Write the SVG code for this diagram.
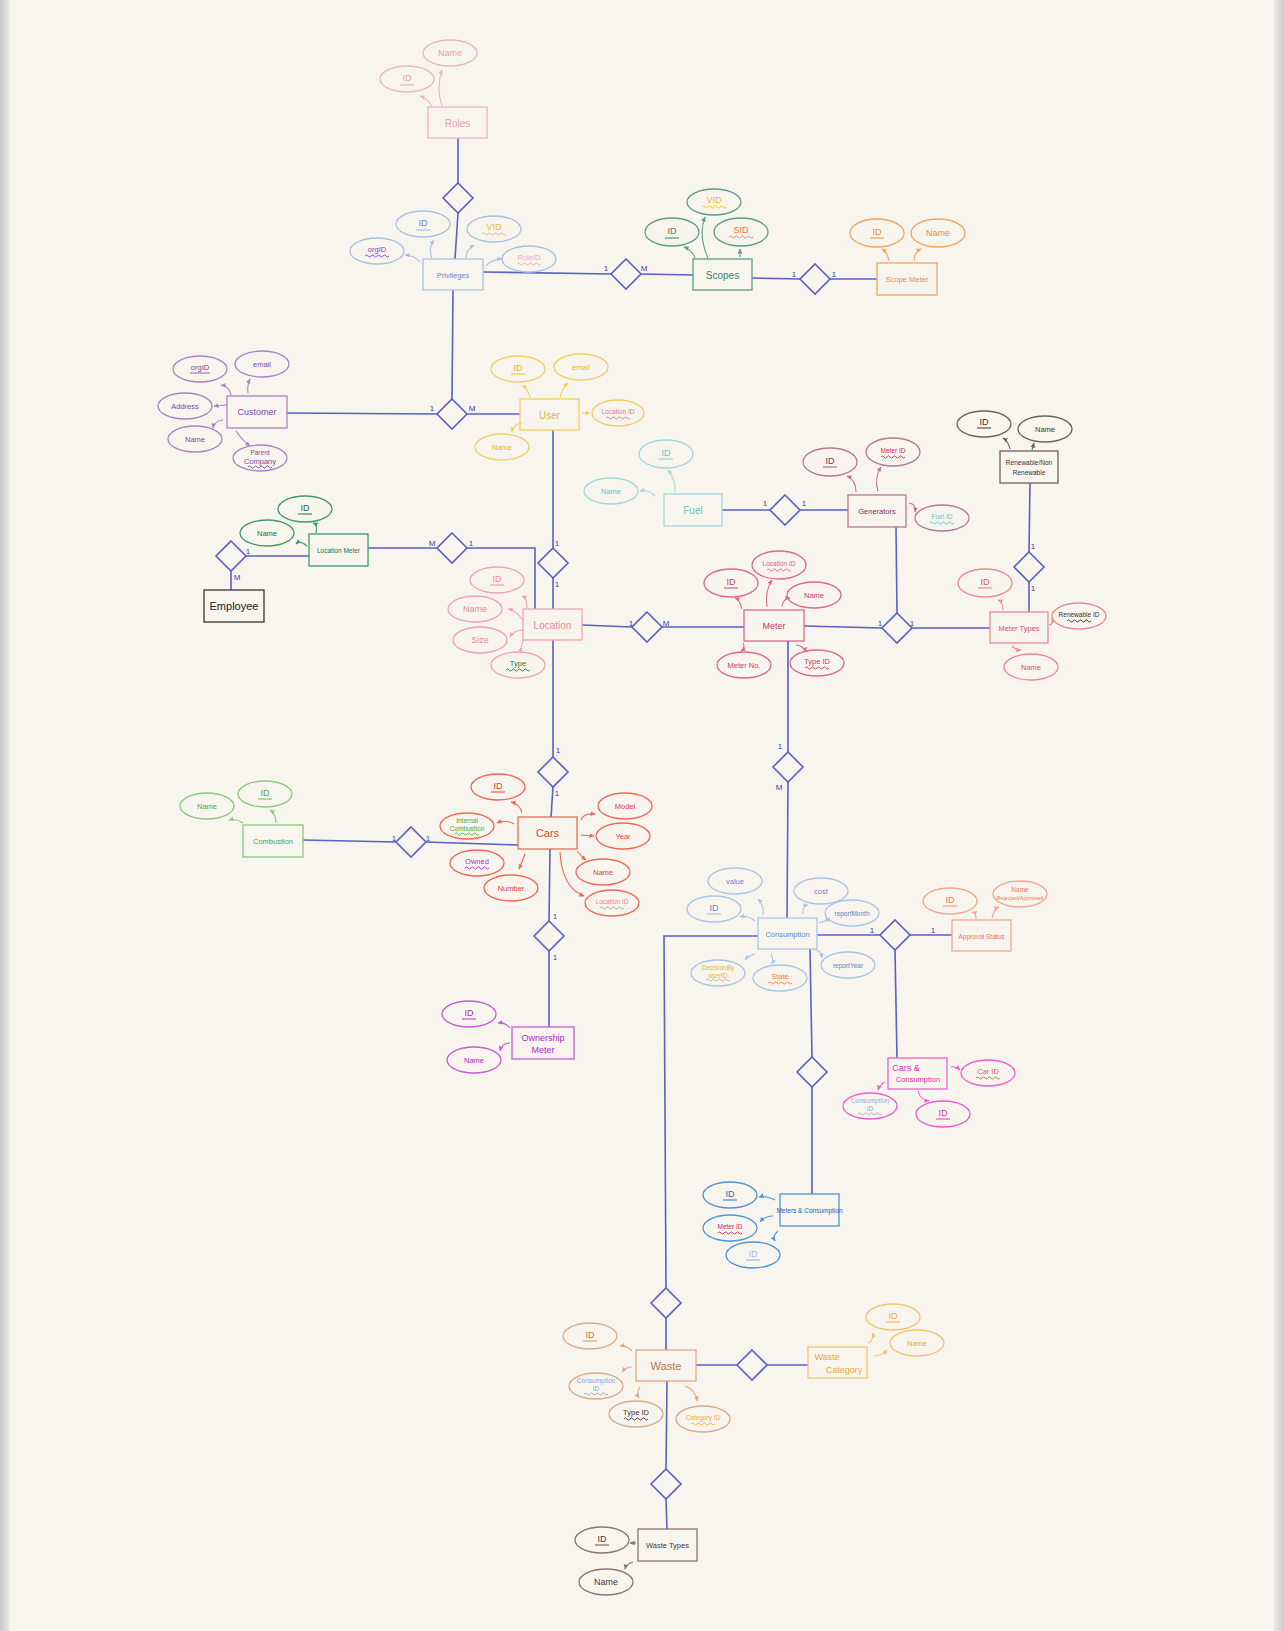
<svg xmlns="http://www.w3.org/2000/svg" width="1284" height="1631" viewBox="0 0 1284 1631">
<defs>
<style>
text{font-family:"Liberation Sans","DejaVu Sans",sans-serif;stroke:none;text-anchor:middle;dominant-baseline:central}
.t{font-size:10px}
.a{font-size:9px}
.s{font-size:7.5px}
.xs{font-size:6.5px}
.ln{fill:none;stroke:#5b5fc7;stroke-width:1.6}
.dm{fill:none;stroke:#5b5fc7;stroke-width:1.6}
.cd{fill:#3b40b0;font-size:8px}
.ar{fill:none;stroke-width:1.1;marker-end:url(#ah)}
</style>
<marker id="ah" viewBox="0 0 6 6" refX="5" refY="3" markerWidth="5" markerHeight="5" orient="auto"><path d="M0 0.5 L5.5 3 L0 5.5 z" fill="context-stroke"/></marker>
<path id="wv" d="M0 0 q1.5 -2.2 3 0 t3 0 t3 0 t3 0 t3 0 t3 0 t3 0 t3 0" fill="none" stroke-width="0.9"/>
<path id="dia" d="M0 -15 L15 0 L0 15 L-15 0 Z"/>
<linearGradient id="lg" x1="0" x2="1" y1="0" y2="0"><stop offset="0" stop-color="#c9c9c9"/><stop offset="1" stop-color="#ecebe8"/></linearGradient>
<linearGradient id="rg" x1="0" x2="1" y1="0" y2="0"><stop offset="0" stop-color="#ecebe8"/><stop offset="1" stop-color="#c9c9c9"/></linearGradient>
</defs>
<rect x="0" y="0" width="1284" height="1631" fill="#f8f5ef"/>
<rect x="0" y="0" width="10" height="1631" fill="url(#lg)"/>
<rect x="1274" y="0" width="10" height="1631" fill="url(#rg)"/>

<g id="connectors">
<path class="ln" d="M458 138 L458 183 M458 213 L455 259"/>
<path class="ln" d="M483 272 L611 274 M641 274 L693 275"/>
<path class="ln" d="M752 278 L800 279 M830 279 L877 279"/>
<path class="ln" d="M453 290 L452 399"/>
<path class="ln" d="M287 413 L437 414 M467 414 L520 414"/>
<path class="ln" d="M553 430 L553 548 M553 578 L553 609"/>
<path class="ln" d="M368 548 L437 548 M467 548 L535 548 L535 609"/>
<path class="ln" d="M246 556 L309 556 M231 571 L231 590"/>
<path class="ln" d="M722 510 L770 510 M800 510 L848 510"/>
<path class="ln" d="M896 527 L897 613"/>
<path class="ln" d="M582 625 L632 627 M662 627 L744 627"/>
<path class="ln" d="M804 626 L882 628 M912 628 L990 628"/>
<path class="ln" d="M1030 483 L1029 552 M1029 582 L1029 612"/>
<path class="ln" d="M553 640 L553 757 M553 787 L551 817"/>
<path class="ln" d="M303 840 L396 842 M426 842 L518 845"/>
<path class="ln" d="M550 849 L549 921 M549 951 L549 1027"/>
<path class="ln" d="M788 641 L788 752 M788 782 L787 918"/>
<path class="ln" d="M817 935 L880 935 M910 935 L952 935"/>
<path class="ln" d="M895 950 L897 1058"/>
<path class="ln" d="M810 949 L812 1057 M812 1087 L812 1194"/>
<path class="ln" d="M758 936 L664 936 L666 1288 M666 1318 L666 1350"/>
<path class="ln" d="M696 1365 L737 1365 M767 1365 L808 1365"/>
<path class="ln" d="M667 1381 L666 1469 M666 1499 L667 1529"/>
<g id="diamonds">
<use href="#dia" class="dm" x="458" y="198"/>
<use href="#dia" class="dm" x="626" y="274"/>
<use href="#dia" class="dm" x="815" y="279"/>
<use href="#dia" class="dm" x="452" y="414"/>
<use href="#dia" class="dm" x="785" y="510"/>
<use href="#dia" class="dm" x="231" y="556"/>
<use href="#dia" class="dm" x="452" y="548"/>
<use href="#dia" class="dm" x="553" y="563"/>
<use href="#dia" class="dm" x="647" y="627"/>
<use href="#dia" class="dm" x="897" y="628"/>
<use href="#dia" class="dm" x="1029" y="567"/>
<use href="#dia" class="dm" x="553" y="772"/>
<use href="#dia" class="dm" x="411" y="842"/>
<use href="#dia" class="dm" x="549" y="936"/>
<use href="#dia" class="dm" x="788" y="767"/>
<use href="#dia" class="dm" x="895" y="935"/>
<use href="#dia" class="dm" x="812" y="1072"/>
<use href="#dia" class="dm" x="666" y="1303"/>
<use href="#dia" class="dm" x="752" y="1365"/>
<use href="#dia" class="dm" x="666" y="1484"/>
</g>
<g id="cardinalities">
<text class="cd" x="606" y="268">1</text><text class="cd" x="644" y="268">M</text>
<text class="cd" x="794" y="274">1</text><text class="cd" x="834" y="274">1</text>
<text class="cd" x="432" y="408">1</text><text class="cd" x="472" y="408">M</text>
<text class="cd" x="765" y="503">1</text><text class="cd" x="804" y="503">1</text>
<text class="cd" x="248" y="551">1</text><text class="cd" x="237" y="577">M</text>
<text class="cd" x="432" y="543">M</text><text class="cd" x="471" y="543">1</text>
<text class="cd" x="557" y="543">1</text><text class="cd" x="557" y="584">1</text>
<text class="cd" x="631" y="623">1</text><text class="cd" x="666" y="623">M</text>
<text class="cd" x="880" y="623">1</text><text class="cd" x="912" y="623">1</text>
<text class="cd" x="1033" y="546">1</text><text class="cd" x="1033" y="588">1</text>
<text class="cd" x="558" y="750">1</text><text class="cd" x="557" y="793">1</text>
<text class="cd" x="394" y="838">1</text><text class="cd" x="428" y="838">1</text>
<text class="cd" x="555" y="916">1</text><text class="cd" x="555" y="957">1</text>
<text class="cd" x="780" y="746">1</text><text class="cd" x="779" y="787">M</text>
<text class="cd" x="872" y="930">1</text><text class="cd" x="933" y="930">1</text>
</g>
</g>

<g id="roles" stroke="#eab8bc" fill="none" stroke-width="1.3">
<rect x="428" y="107" width="59" height="31"/>
<text class="t" x="457.5" y="123" fill="#e4a4ac">Roles</text>
<ellipse cx="407" cy="79" rx="27" ry="13"/><text class="a" x="407" y="78" fill="#e4a4ac">ID</text><line x1="400" y1="85" x2="414" y2="85"/>
<ellipse cx="450" cy="53" rx="27" ry="13"/><text class="a" x="450" y="53" fill="#e4a4ac">Name</text>
<path class="ar" d="M432 106 Q428 99 420 96"/>
<path class="ar" d="M442 106 Q436 88 442 70"/>
</g>

<g id="privileges" stroke="#a9c1e2" fill="none" stroke-width="1.3">
<rect x="423" y="259" width="60" height="31"/>
<text class="s" x="453" y="275" fill="#6a8ac4">Privileges</text>
<ellipse cx="423" cy="224" rx="27" ry="13"/><text class="a" x="423" y="223" fill="#6a8ac4">ID</text><line x1="416" y1="230" x2="430" y2="230"/>
<ellipse cx="494" cy="229" rx="27" ry="13"/><text class="a" x="494" y="227" fill="#f0c020">VID</text><use href="#wv" x="482" y="234" stroke="#f0c020"/>
<ellipse cx="377" cy="251" rx="27" ry="13"/><text class="s" x="377" y="249" fill="#8a3aa8">orgID</text><use href="#wv" x="365" y="256" stroke="#8a3aa8"/>
<ellipse cx="529" cy="259" rx="27" ry="13"/><text class="s" x="529" y="257" fill="#eaa8b4">RoleID</text><use href="#wv" x="517" y="264" stroke="#eaa8b4"/>
<path class="ar" d="M432 258 Q428 248 434 240"/>
<path class="ar" d="M466 258 Q466 250 474 245"/>
<path class="ar" d="M420 262 Q414 255 405 255"/>
<path class="ar" d="M486 266 Q492 259 502 259"/>
</g>

<g id="scopes" stroke="#5e9c8a" fill="none" stroke-width="1.3">
<rect x="693" y="259" width="59" height="31"/>
<text class="t" x="722.5" y="275" fill="#3f7f6c">Scopes</text>
<ellipse cx="672" cy="232" rx="27" ry="14"/><text class="a" x="672" y="231" fill="#3f7f6c">ID</text><line x1="665" y1="238" x2="679" y2="238"/>
<ellipse cx="714" cy="202" rx="27" ry="13"/><text class="a" x="714" y="200" fill="#f0c020">VID</text><use href="#wv" x="702" y="207" stroke="#f0c020"/>
<ellipse cx="741" cy="232" rx="27" ry="14"/><text class="a" x="741" y="230" fill="#f07a3a">SID</text><use href="#wv" x="729" y="237" stroke="#f07a3a"/>
<path class="ar" d="M695 258 Q692 250 684 247"/>
<path class="ar" d="M708 258 Q698 235 705 217"/>
<path class="ar" d="M740 257 L740 249"/>
</g>

<g id="scope-meter" stroke="#f2a55e" fill="none" stroke-width="1.3">
<rect x="877" y="263" width="60" height="32"/>
<text class="s" x="907" y="279" fill="#ef8a3a">Scope Meter</text>
<ellipse cx="877" cy="233" rx="27" ry="14"/><text class="a" x="877" y="232" fill="#ef8a3a">ID</text><line x1="870" y1="238" x2="884" y2="238"/>
<ellipse cx="938" cy="233" rx="27" ry="14"/><text class="a" x="938" y="233" fill="#ef8a3a">Name</text>
<path class="ar" d="M889 261 Q888 253 882 249"/>
<path class="ar" d="M914 261 Q914 252 921 249"/>
</g>

<g id="customer" stroke="#a884c4" fill="none" stroke-width="1.3">
<rect x="227" y="396" width="60" height="32"/>
<text class="a" x="257" y="412" fill="#7a4aa0">Customer</text>
<ellipse cx="200" cy="369" rx="27" ry="13"/><text class="s" x="200" y="367" fill="#7a4aa0">orgID</text><line x1="190" y1="373" x2="210" y2="373"/>
<ellipse cx="262" cy="364" rx="27" ry="13"/><text class="s" x="262" y="364" fill="#7a4aa0">email</text>
<ellipse cx="185" cy="406" rx="27" ry="13"/><text class="s" x="185" y="406" fill="#7a4aa0">Address</text>
<ellipse cx="195" cy="439" rx="27" ry="13"/><text class="s" x="195" y="439" fill="#7a4aa0">Name</text>
<ellipse cx="260" cy="458" rx="27" ry="13"/><text class="xs" x="260" y="452" fill="#7a4aa0">Parent</text><text class="s" x="260" y="461" fill="#7a4aa0">Company</text><use href="#wv" x="248" y="467" stroke="#7a4aa0"/>
<path class="ar" d="M231 395 Q229 386 221 385"/>
<path class="ar" d="M248 393 Q247 385 250 379"/>
<path class="ar" d="M227 405 L214 406"/>
<path class="ar" d="M223 420 Q214 421 213 428"/>
<path class="ar" d="M236 431 Q242 440 250 446"/>
</g>

<g id="user" stroke="#f2cf62" fill="none" stroke-width="1.3">
<rect x="520" y="399" width="59" height="31"/>
<text class="t" x="549.5" y="415" fill="#e8b530">User</text>
<ellipse cx="518" cy="369" rx="27" ry="13"/><text class="a" x="518" y="368" fill="#e8b530">ID</text><line x1="511" y1="374" x2="525" y2="374"/>
<ellipse cx="581" cy="367" rx="27" ry="13"/><text class="s" x="581" y="367" fill="#e8b530">email</text>
<ellipse cx="618" cy="413" rx="26" ry="13"/><text class="xs" x="618" y="411" fill="#f0708c">Location ID</text><use href="#wv" x="606" y="418" stroke="#f0708c"/>
<ellipse cx="502" cy="447" rx="27" ry="13"/><text class="s" x="502" y="447" fill="#e8b530">Name</text>
<path class="ar" d="M530 398 Q528 388 522 386"/>
<path class="ar" d="M560 398 Q562 388 568 383"/>
<path class="ar" d="M582 413 L590 413"/>
<path class="ar" d="M522 423 Q513 424 512 432"/>
</g>

<g id="fuel" stroke="#a5d7db" fill="none" stroke-width="1.3">
<rect x="664" y="494" width="58" height="32"/>
<text class="t" x="693" y="510" fill="#6fbcc4">Fuel</text>
<ellipse cx="666" cy="454" rx="27" ry="14"/><text class="a" x="666" y="453" fill="#6fbcc4">ID</text><line x1="659" y1="459" x2="673" y2="459"/>
<ellipse cx="611" cy="491" rx="27" ry="13"/><text class="s" x="611" y="491" fill="#6fbcc4">Name</text>
<path class="ar" d="M675 492 Q676 480 668 470"/>
<path class="ar" d="M655 496 Q648 489 640 491"/>
</g>

<g id="generators" stroke="#b77896" fill="none" stroke-width="1.3">
<rect x="848" y="495" width="58" height="32"/>
<text class="s" x="877" y="511" fill="#8a2f5c">Generators</text>
<ellipse cx="830" cy="462" rx="27" ry="14"/><text class="a" x="830" y="461" fill="#8a2f5c">ID</text><line x1="823" y1="467" x2="837" y2="467"/>
<ellipse cx="893" cy="452" rx="27" ry="14"/><text class="xs" x="893" y="450" fill="#d0245a">Meter ID</text><use href="#wv" x="881" y="457" stroke="#d0245a"/>
<ellipse cx="942" cy="518" rx="27" ry="13"/><text class="xs" x="942" y="516" fill="#6fbcc4">Fuel ID</text><use href="#wv" x="930" y="523" stroke="#6fbcc4"/>
<path class="ar" d="M856 492 Q856 480 847 476"/>
<path class="ar" d="M878 491 Q874 478 881 467"/>
<path class="ar" d="M909 503 Q916 504 915 512"/>
</g>

<g id="renewable" stroke="#6e5f5f" fill="none" stroke-width="1.3">
<rect x="1000" y="451" width="58" height="32"/>
<text class="xs" x="1029" y="462" fill="#3e3030">Renewable/Non</text>
<text class="xs" x="1029" y="472" fill="#3e3030">Renewable</text>
<ellipse cx="984" cy="424" rx="27" ry="13"/><text class="a" x="984" y="422" fill="#3e3030">ID</text><line x1="977" y1="428" x2="991" y2="428"/>
<ellipse cx="1045" cy="429" rx="27" ry="13"/><text class="s" x="1045" y="429" fill="#3e3030">Name</text>
<path class="ar" d="M1010 449 Q1008 441 1003 438"/>
<path class="ar" d="M1032 450 L1034 443"/>
</g>

<g id="location-meter" stroke="#3f9b63" fill="none" stroke-width="1.3">
<rect x="309" y="534" width="59" height="32"/>
<text class="xs" x="338.5" y="550" fill="#1f6e3c">Location Meter</text>
<ellipse cx="305" cy="509" rx="27" ry="13"/><text class="a" x="305" y="508" fill="#1f6e3c">ID</text><line x1="298" y1="514" x2="312" y2="514"/>
<ellipse cx="267" cy="533" rx="27" ry="13"/><text class="s" x="267" y="533" fill="#1f6e3c">Name</text>
<path class="ar" d="M316 533 Q318 525 313 523"/>
<path class="ar" d="M307 546 Q300 540 296 544"/>
</g>

<g id="employee" stroke="#333333" fill="none" stroke-width="1.3">
<rect x="204" y="590" width="60" height="32"/>
<text x="234" y="606" fill="#222222" style="font-size:11px">Employee</text>
</g>

<g id="location" stroke="#f3a4ab" fill="none" stroke-width="1.3">
<rect x="523" y="609" width="59" height="31"/>
<text class="t" x="552.5" y="625" fill="#ef8a94">Location</text>
<ellipse cx="497" cy="580" rx="27" ry="13"/><text class="a" x="497" y="579" fill="#ef8a94">ID</text><line x1="490" y1="585" x2="504" y2="585"/>
<ellipse cx="475" cy="609" rx="27" ry="13"/><text class="a" x="475" y="609" fill="#ef8a94">Name</text>
<ellipse cx="480" cy="640" rx="27" ry="13"/><text class="a" x="480" y="640" fill="#ef8a94">Size</text>
<ellipse cx="518" cy="665" rx="27" ry="13"/><text class="s" x="518" y="663" fill="#1f7a40">Type</text><use href="#wv" x="506" y="670" stroke="#1f7a40"/>
<path class="ar" d="M527 608 Q527 598 522 596"/>
<path class="ar" d="M523 620 Q515 610 508 609"/>
<path class="ar" d="M523 630 Q514 630 510 637"/>
<path class="ar" d="M524 639 Q520 647 521 653"/>
</g>

<g id="meter" stroke="#e0668a" fill="none" stroke-width="1.3">
<rect x="744" y="610" width="60" height="31"/>
<text class="a" x="774" y="626" fill="#c83a66">Meter</text>
<ellipse cx="731" cy="583" rx="27" ry="14"/><text class="a" x="731" y="582" fill="#c83a66">ID</text><line x1="724" y1="588" x2="738" y2="588"/>
<ellipse cx="779" cy="565" rx="27" ry="14"/><text class="xs" x="779" y="563" fill="#e0668a">Location ID</text><use href="#wv" x="767" y="570" stroke="#e0668a"/>
<ellipse cx="814" cy="595" rx="27" ry="13"/><text class="s" x="814" y="595" fill="#c83a66">Name</text>
<ellipse cx="744" cy="665" rx="27" ry="13"/><text class="s" x="744" y="665" fill="#c83a66">Meter No.</text>
<ellipse cx="817" cy="663" rx="27" ry="13"/><text class="s" x="817" y="661" fill="#c83a66">Type ID</text><use href="#wv" x="805" y="668" stroke="#c83a66"/>
<path class="ar" d="M742 609 Q740 600 735 598"/>
<path class="ar" d="M767 607 Q765 590 772 580"/>
<path class="ar" d="M782 606 Q784 598 790 598"/>
<path class="ar" d="M743 643 Q746 648 741 651"/>
<path class="ar" d="M796 645 Q804 646 806 652"/>
</g>

<g id="meter-types" stroke="#ec8b8b" fill="none" stroke-width="1.3">
<rect x="990" y="612" width="58" height="31"/>
<text class="s" x="1019" y="628" fill="#d9545e">Meter Types</text>
<ellipse cx="985" cy="583" rx="27" ry="14"/><text class="a" x="985" y="582" fill="#d9545e">ID</text><line x1="978" y1="588" x2="992" y2="588"/>
<ellipse cx="1079" cy="616" rx="27" ry="13"/><text class="xs" x="1079" y="614" fill="#333333">Renewable ID</text><use href="#wv" x="1067" y="621" stroke="#333333"/>
<ellipse cx="1031" cy="667" rx="27" ry="13"/><text class="s" x="1031" y="667" fill="#d9545e">Name</text>
<path class="ar" d="M1003 610 Q1003 602 998 600"/>
<path class="ar" d="M1049 625 Q1054 624 1052 618"/>
<path class="ar" d="M1012 646 Q1016 650 1021 650"/>
</g>

<g id="combustion" stroke="#86cb76" fill="none" stroke-width="1.3">
<rect x="243" y="825" width="60" height="32"/>
<text class="s" x="273" y="841" fill="#4ea93a">Combustion</text>
<ellipse cx="265" cy="794" rx="27" ry="13"/><text class="a" x="265" y="793" fill="#4ea93a">ID</text><line x1="258" y1="799" x2="272" y2="799"/>
<ellipse cx="207" cy="806" rx="27" ry="13"/><text class="s" x="207" y="806" fill="#4ea93a">Name</text>
<path class="ar" d="M276 823 Q276 814 270 810"/>
<path class="ar" d="M243 823 Q236 818 229 820"/>
</g>

<g id="cars" stroke="#f26656" fill="none" stroke-width="1.3">
<rect x="518" y="817" width="59" height="32"/>
<text x="547.5" y="833" fill="#e8402e" style="font-size:11px">Cars</text>
<ellipse cx="498" cy="787" rx="27" ry="13"/><text class="a" x="498" y="786" fill="#e8402e">ID</text><line x1="491" y1="792" x2="505" y2="792"/>
<ellipse cx="467" cy="826" rx="27" ry="13"/><text class="xs" x="467" y="820" fill="#4ea93a">Internal</text><text class="xs" x="467" y="828" fill="#4ea93a">Combustion</text><use href="#wv" x="455" y="834" stroke="#4ea93a"/>
<ellipse cx="477" cy="863" rx="27" ry="13"/><text class="s" x="477" y="861" fill="#a030d0">Owned</text><use href="#wv" x="465" y="868" stroke="#a030d0"/>
<ellipse cx="511" cy="888" rx="27" ry="13"/><text class="s" x="511" y="888" fill="#e8402e">Number</text>
<ellipse cx="625" cy="806" rx="27" ry="13"/><text class="s" x="625" y="806" fill="#e8402e">Model</text>
<ellipse cx="623" cy="836" rx="27" ry="13"/><text class="s" x="623" y="836" fill="#e8402e">Year</text>
<ellipse cx="603" cy="872" rx="27" ry="13"/><text class="s" x="603" y="872" fill="#e8402e">Name</text>
<ellipse cx="612" cy="903" rx="27" ry="13"/><text class="xs" x="612" y="901" fill="#f080a0">Location ID</text><use href="#wv" x="600" y="908" stroke="#f080a0"/>
<path class="ar" d="M522 813 Q520 804 511 802"/>
<path class="ar" d="M514 824 Q506 819 497 823"/>
<path class="ar" d="M525 854 Q522 862 519 869"/>
<path class="ar" d="M581 820 Q583 813 595 814"/>
<path class="ar" d="M581 835 L594 836"/>
<path class="ar" d="M577 851 Q582 857 586 860"/>
<path class="ar" d="M560 852 Q562 888 584 896"/>
</g>

<g id="ownership-meter" stroke="#c85ad6" fill="none" stroke-width="1.3">
<rect x="512" y="1027" width="62" height="32"/>
<text class="a" x="543" y="1038" fill="#a230b8">Ownership</text>
<text class="a" x="543" y="1050" fill="#a230b8">Meter</text>
<ellipse cx="469" cy="1014" rx="27" ry="13"/><text class="a" x="469" y="1013" fill="#a230b8">ID</text><line x1="462" y1="1019" x2="476" y2="1019"/>
<ellipse cx="474" cy="1060" rx="27" ry="13"/><text class="s" x="474" y="1060" fill="#a230b8">Name</text>
<path class="ar" d="M510 1028 Q505 1022 498 1023"/>
<path class="ar" d="M510 1043 Q502 1043 500 1051"/>
</g>

<g id="consumption" stroke="#a9c5e4" fill="none" stroke-width="1.3">
<rect x="758" y="918" width="59" height="31"/>
<text class="s" x="787.5" y="934" fill="#5d85c2">Consumption</text>
<ellipse cx="735" cy="881" rx="27" ry="13"/><text class="s" x="735" y="881" fill="#5d85c2">value</text>
<ellipse cx="714" cy="909" rx="27" ry="13"/><text class="a" x="714" y="908" fill="#5d85c2">ID</text><line x1="707" y1="914" x2="721" y2="914"/>
<ellipse cx="821" cy="891" rx="27" ry="13"/><text class="s" x="821" y="891" fill="#5d85c2">cost</text>
<ellipse cx="852" cy="913" rx="27" ry="13"/><text class="xs" x="852" y="913" fill="#5d85c2">reportMonth</text>
<ellipse cx="848" cy="965" rx="27" ry="13"/><text class="xs" x="848" y="965" fill="#5d85c2">reportYear</text>
<ellipse cx="718" cy="973" rx="27" ry="13"/><text class="xs" x="718" y="967" fill="#e8b820">DecisionBy</text><text class="xs" x="718" y="975" fill="#e8b820">userID</text><use href="#wv" x="706" y="980" stroke="#e8b820"/>
<ellipse cx="780" cy="978" rx="27" ry="13"/><text class="s" x="780" y="976" fill="#f07a50">State</text><use href="#wv" x="768" y="983" stroke="#f07a50"/>
<path class="ar" d="M763 915 Q764 905 758 899"/>
<path class="ar" d="M755 921 Q748 915 740 917"/>
<path class="ar" d="M803 914 Q802 906 808 905"/>
<path class="ar" d="M819 923 Q824 922 830 918"/>
<path class="ar" d="M815 950 Q821 950 822 958"/>
<path class="ar" d="M755 954 Q749 955 745 960"/>
<path class="ar" d="M771 954 Q774 960 772 964"/>
</g>

<g id="approval-status" stroke="#f2a68e" fill="none" stroke-width="1.3">
<rect x="952" y="920" width="59" height="31"/>
<text class="xs" x="981.5" y="936" fill="#e8785a">Approval Status</text>
<ellipse cx="950" cy="901" rx="27" ry="13"/><text class="a" x="950" y="900" fill="#e8785a">ID</text><line x1="943" y1="906" x2="957" y2="906"/>
<ellipse cx="1020" cy="894" rx="27" ry="13"/><text class="xs" x="1020" y="889" fill="#e8785a">Name</text><text x="1020" y="898" fill="#e8785a" style="font-size:5.5px">Rejected/Approved</text>
<path class="ar" d="M976 919 Q976 913 972 912"/>
<path class="ar" d="M992 918 Q994 909 999 907"/>
</g>

<g id="cars-consumption" stroke="#f25ccc" fill="none" stroke-width="1.3">
<rect x="888" y="1058" width="59" height="31"/>
<text class="a" x="906" y="1068" fill="#e02cb0">Cars &amp;</text>
<text class="s" x="918" y="1079" fill="#e02cb0">Consumption</text>
<ellipse cx="988" cy="1073" rx="27" ry="13"/><text class="s" x="988" y="1071" fill="#f0603a">Car ID</text><use href="#wv" x="976" y="1078" stroke="#f0603a"/>
<ellipse cx="870" cy="1106" rx="27" ry="13"/><text class="xs" x="870" y="1100" fill="#90b0e0">Consumption</text><text class="xs" x="870" y="1108" fill="#90b0e0">ID</text><use href="#wv" x="858" y="1114" stroke="#90b0e0"/>
<ellipse cx="943" cy="1114" rx="27" ry="13"/><text class="a" x="943" y="1113" fill="#e02cb0">ID</text><line x1="936" y1="1119" x2="950" y2="1119"/>
<path class="ar" d="M951 1067 Q956 1066 960 1070"/>
<path class="ar" d="M885 1082 Q880 1084 878 1090"/>
<path class="ar" d="M918 1091 Q920 1100 929 1101"/>
</g>

<g id="meters-consumption" stroke="#4e95d6" fill="none" stroke-width="1.3">
<rect x="780" y="1194" width="59" height="32"/>
<text class="xs" x="809.5" y="1210" fill="#1f5fbf">Meters &amp; Consumption</text>
<ellipse cx="730" cy="1195" rx="27" ry="13"/><text class="a" x="730" y="1194" fill="#2a66c0">ID</text><line x1="723" y1="1200" x2="737" y2="1200"/>
<ellipse cx="730" cy="1228" rx="27" ry="13"/><text class="xs" x="730" y="1226" fill="#d0245a">Meter ID</text><use href="#wv" x="718" y="1233" stroke="#d0245a"/>
<ellipse cx="753" cy="1255" rx="27" ry="13"/><text class="a" x="753" y="1254" fill="#a8bde0">ID</text><line x1="746" y1="1260" x2="760" y2="1260" stroke="#a8bde0"/>
<path class="ar" d="M775 1200 Q766 1195 759 1197"/>
<path class="ar" d="M773 1216 Q765 1216 760 1222"/>
<path class="ar" d="M778 1231 Q772 1236 775 1241"/>
</g>

<g id="waste" stroke="#dbab84" fill="none" stroke-width="1.3">
<rect x="636" y="1350" width="60" height="31"/>
<text x="666" y="1366" fill="#b07a52" style="font-size:11px">Waste</text>
<ellipse cx="590" cy="1336" rx="27" ry="13"/><text class="a" x="590" y="1335" fill="#b07a52">ID</text><line x1="583" y1="1341" x2="597" y2="1341"/>
<ellipse cx="596" cy="1386" rx="27" ry="13"/><text class="xs" x="596" y="1380" fill="#7ea6e0">Consumption</text><text class="xs" x="596" y="1388" fill="#7ea6e0">ID</text><use href="#wv" x="584" y="1394" stroke="#7ea6e0"/>
<ellipse cx="636" cy="1414" rx="27" ry="13"/><text class="s" x="636" y="1412" fill="#4a3030">Type ID</text><use href="#wv" x="624" y="1419" stroke="#4a3030"/>
<ellipse cx="703" cy="1419" rx="27" ry="13"/><text class="xs" x="703" y="1417" fill="#f0b030">Category ID</text><use href="#wv" x="691" y="1424" stroke="#f0b030"/>
<path class="ar" d="M632 1351 Q626 1345 620 1346"/>
<path class="ar" d="M632 1367 Q626 1367 622 1372"/>
<path class="ar" d="M640 1387 Q636 1393 639 1398"/>
<path class="ar" d="M685 1386 Q696 1390 697 1401"/>
</g>

<g id="waste-category" stroke="#f2c56e" fill="none" stroke-width="1.3">
<rect x="808" y="1347" width="59" height="31"/>
<text class="a" x="827" y="1357" fill="#e9a93a">Waste</text>
<text class="a" x="844" y="1370" fill="#e9a93a">Category</text>
<ellipse cx="893" cy="1317" rx="27" ry="13"/><text class="a" x="893" y="1316" fill="#e9a93a">ID</text><line x1="886" y1="1322" x2="900" y2="1322"/>
<ellipse cx="917" cy="1343" rx="27" ry="13"/><text class="s" x="917" y="1343" fill="#e9a93a">Name</text>
<path class="ar" d="M868 1343 Q874 1340 873 1333"/>
<path class="ar" d="M874 1356 Q882 1356 887 1350"/>
</g>

<g id="waste-types" stroke="#8b7373" fill="none" stroke-width="1.3">
<rect x="638" y="1529" width="59" height="32"/>
<text class="s" x="667.5" y="1545" fill="#4a3434">Waste Types</text>
<ellipse cx="602" cy="1540" rx="27" ry="13"/><text class="a" x="602" y="1539" fill="#4a3434">ID</text><line x1="595" y1="1545" x2="609" y2="1545"/>
<ellipse cx="606" cy="1582" rx="27" ry="13"/><text class="a" x="606" y="1582" fill="#4a3434">Name</text>
<path class="ar" d="M636 1543 L630 1543"/>
<path class="ar" d="M633 1562 Q626 1564 625 1569"/>
</g>
</svg>
